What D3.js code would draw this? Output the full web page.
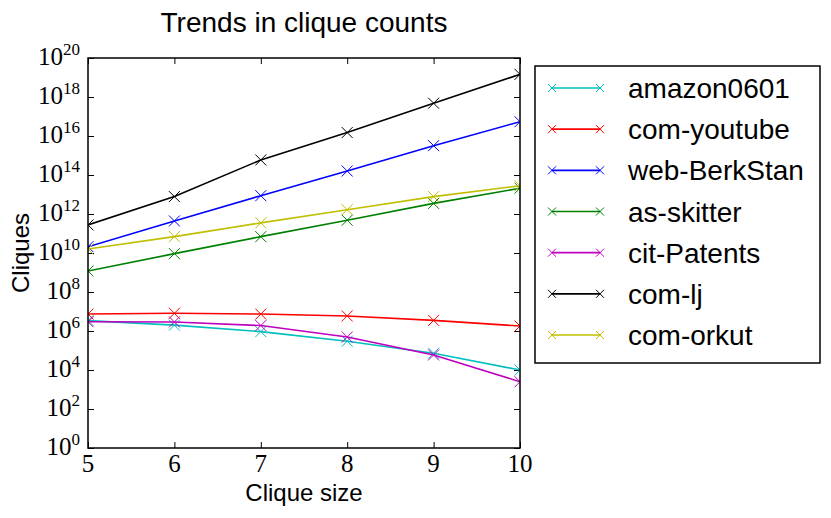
<!DOCTYPE html>
<html>
<head>
<meta charset="utf-8">
<script src="https://cdn.jsdelivr.net/npm/d3@7"></script>
<style>
  body { margin: 0; background: #fff; }
  text { font-family: "Liberation Sans", Arial, sans-serif; }
</style>
</head>
<body>
<div id="chart"></div>
<script>
// Data
const cliqueSizes = [5, 6, 7, 8, 9, 10];
const seriesNames = ["amazon0601", "com-youtube", "web-BerkStan", "as-skitter", "cit-Patents", "com-lj", "com-orkut"];
const seriesColors = ["#00bfbf", "#ff0000", "#0000ff", "#008000", "#bf00bf", "#000000", "#bfbf00"];
const amazon0601 = [3.4e6, 2.0e6, 9.3e5, 3.0e5, 7.2e4, 1.0e4];
const comYoutube = [7.4e6, 8.1e6, 7.4e6, 5.9e6, 3.5e6, 1.8e6];
const webBerkStan = [2.1e10, 4.4e11, 8.7e12, 1.6e14, 3.2e15, 5.4e16];
const asSkitter = [1.2e9, 9.3e9, 6.9e10, 4.8e11, 3.5e12, 2.1e13];
const citPatents = [3.0e6, 2.9e6, 1.9e6, 4.9e5, 5.9e4, 2.5e3];
const comLj = [2.75e11, 7.8e12, 5.9e14, 1.5e16, 4.8e17, 1.45e19];
const comOrkut = [1.6e10, 6.9e10, 3.5e11, 1.66e12, 7.8e12, 2.8e13];
const seriesValues = [amazon0601, comYoutube, webBerkStan, asSkitter, citPatents, comLj, comOrkut];
const yTickExps = [0, 2, 4, 6, 8, 10, 12, 14, 16, 18, 20];
const xTicks = [5, 6, 7, 8, 9, 10];

// Dimensions
const W = 831, H = 518;
const plot = {left: 88, right: 520, top: 58, bottom: 448};

const svg = d3.select("#chart")
    .append("svg")
    .attr("width", W)
    .attr("height", H);

var x = d3.scaleLinear().domain([5, 10]).range([plot.left, plot.right]);
var y = d3.scaleLog().domain([1, 1e20]).range([plot.bottom, plot.top]);

// clip for lines and markers
svg.append("clipPath").attr("id", "clip")
    .append("rect")
    .attr("x", plot.left).attr("y", plot.top)
    .attr("width", plot.right - plot.left)
    .attr("height", plot.bottom - plot.top);

const yTickVals = yTickExps.map(e => Math.pow(10, e));

// Axes with inward ticks
function styleAxis(g) {
    g.select(".domain").remove();
    g.selectAll(".tick line").attr("stroke", "#000").attr("stroke-width", 1);
}
svg.append("g")
    .attr("transform", "translate(" + plot.left + ",0)")
    .call(d3.axisLeft(y).tickValues(yTickVals).tickSize(-6).tickFormat(""))
    .call(styleAxis);
svg.append("g")
    .attr("transform", "translate(" + plot.right + ",0)")
    .call(d3.axisRight(y).tickValues(yTickVals).tickSize(-6).tickFormat(""))
    .call(styleAxis);
svg.append("g")
    .attr("transform", "translate(0," + plot.bottom + ")")
    .call(d3.axisBottom(x).tickValues(xTicks).tickSize(-6).tickFormat(""))
    .call(styleAxis);
svg.append("g")
    .attr("transform", "translate(0," + plot.top + ")")
    .call(d3.axisTop(x).tickValues(xTicks).tickSize(-6).tickFormat(""))
    .call(styleAxis);

// Y tick labels (10^n)
const yLab = svg.append("g").selectAll("text")
    .data(yTickExps)
    .enter()
    .append("text")
    .attr("x", plot.left - 8)
    .attr("y", d => y(Math.pow(10, d)) + 7)
    .attr("text-anchor", "end")
    .style("font-family", "'Liberation Serif', 'DejaVu Serif', serif")
    .style("font-size", "25px");
yLab.append("tspan").text("10");
yLab.append("tspan")
    .attr("dy", -10)
    .style("font-size", "17px")
    .text(d => d);

// X tick labels
svg.append("g").selectAll("text")
    .data(xTicks)
    .enter()
    .append("text")
    .attr("x", d => x(d))
    .attr("y", plot.bottom + 24)
    .attr("text-anchor", "middle")
    .style("font-family", "'Liberation Serif', 'DejaVu Serif', serif")
    .style("font-size", "25px")
    .text(d => d);

// Lines + x markers
const line = d3.line()
    .x((d, i) => x(cliqueSizes[i]))
    .y(d => y(d));

const plotG = svg.append("g").attr("clip-path", "url(#clip)");
seriesValues.forEach(function(vals, k) {
    plotG.append("path")
        .datum(vals)
        .attr("d", line)
        .attr("fill", "none")
        .attr("stroke", seriesColors[k])
        .attr("stroke-width", 1.6);
    plotG.selectAll(null)
        .data(vals)
        .enter()
        .append("path")
        .attr("d", function(d, i) {
            const cx = x(cliqueSizes[i]), cy = y(d), s = 5.5;
            return "M" + (cx - s) + "," + (cy - s) + "L" + (cx + s) + "," + (cy + s) +
                   "M" + (cx - s) + "," + (cy + s) + "L" + (cx + s) + "," + (cy - s);
        })
        .attr("stroke", seriesColors[k])
        .attr("stroke-width", 1)
        .attr("fill", "none");
});

// Frame
svg.append("rect")
    .attr("x", plot.left).attr("y", plot.top)
    .attr("width", plot.right - plot.left)
    .attr("height", plot.bottom - plot.top)
    .attr("fill", "none")
    .attr("stroke", "#000")
    .attr("stroke-width", 1.5);

// Title and labels
svg.append("text")
    .attr("x", (plot.left + plot.right) / 2)
    .attr("y", 32)
    .attr("text-anchor", "middle")
    .style("font-size", "28px")
    .text("Trends in clique counts");
svg.append("text")
    .attr("x", (plot.left + plot.right) / 2)
    .attr("y", 501)
    .attr("text-anchor", "middle")
    .style("font-size", "24px")
    .text("Clique size");
svg.append("text")
    .attr("transform", "translate(29," + ((plot.top + plot.bottom) / 2) + ") rotate(-90)")
    .attr("text-anchor", "middle")
    .style("font-size", "24px")
    .text("Cliques");

// Legend
const legend = svg.append("g");
legend.append("rect")
    .attr("x", 535).attr("y", 66)
    .attr("width", 285).attr("height", 297)
    .attr("fill", "#fff")
    .attr("stroke", "#000")
    .attr("stroke-width", 1.5);
const ly = d3.scaleLinear().domain([0, 6]).range([88, 335]);
seriesNames.forEach(function(name, k) {
    const cy = ly(k);
    legend.append("line")
        .attr("x1", 552).attr("x2", 600)
        .attr("y1", cy).attr("y2", cy)
        .attr("stroke", seriesColors[k])
        .attr("stroke-width", 1.6);
    [552, 600].forEach(function(cx) {
        legend.append("path")
            .attr("d", "M" + (cx - 4) + "," + (cy - 4) + "L" + (cx + 4) + "," + (cy + 4) +
                       "M" + (cx - 4) + "," + (cy + 4) + "L" + (cx + 4) + "," + (cy - 4))
            .attr("stroke", seriesColors[k])
            .attr("stroke-width", 1);
    });
    legend.append("text")
        .attr("x", 628)
        .attr("y", cy + 10)
        .style("font-size", "28px")
        .text(name);
});
</script>
</body>
</html>
